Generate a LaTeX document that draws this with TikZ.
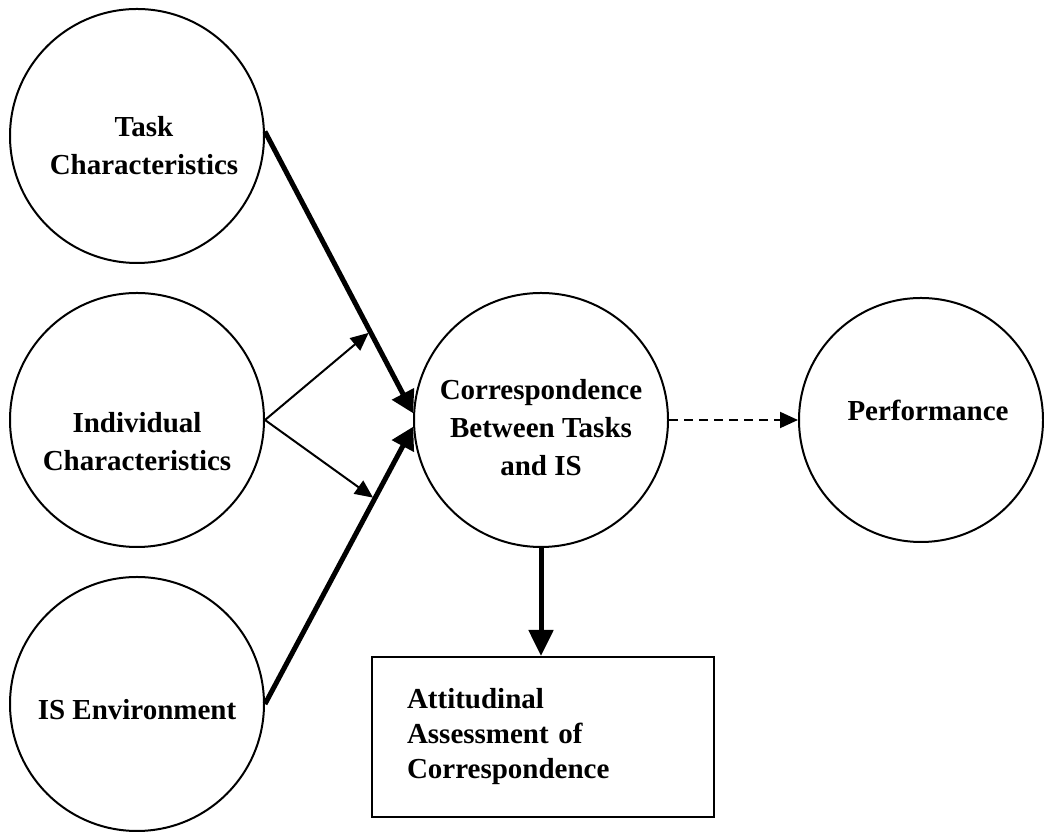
\documentclass[tikz,border=0pt]{standalone}
\usepackage{fontspec}
\setmainfont{Liberation Serif}
\usetikzlibrary{arrows.meta}

\begin{document}
\begin{tikzpicture}[x=0.5pt, y=0.5pt,
  factor/.style={draw, circle, line width=1pt, minimum size=127pt, inner sep=0pt},
  lbl/.style={font=\fontsize{14.5}{19}\selectfont\bfseries, align=center},
  mainarrow/.style={line width=2.5pt, -{Triangle[length=11pt,width=12pt]}},
  sidearrow/.style={line width=1pt, shorten >=1pt, -{Triangle[length=9pt,width=8pt]}}]
\useasboundingbox (0,0) rectangle (1044,834);

\node[factor, label={[lbl, xshift=3.5pt, yshift=-5pt]center:Task\\Characteristics}] (task) at (137,698) {};
\node[factor, label={[lbl, yshift=-11pt]center:Individual\\Characteristics}] (indiv) at (137,414) {};
\node[factor, label={[lbl, yshift=-3pt]center:IS Environment}] (isenv) at (137,130) {};
\node[factor, label={[lbl, yshift=-4pt]center:Correspondence\\Between Tasks\\and IS}] (corr) at (541,414) {};
\node[factor, minimum size=122pt, label={[lbl, xshift=3.5pt, yshift=5pt]center:Performance}] (perf) at (921,414) {};
\node[draw, line width=1pt, minimum height=80pt, text width=136pt, inner xsep=17.5pt, align=left,
  font=\fontsize{14.5}{17.5}\selectfont\bfseries] (assess) at (543,97)
  {Attitudinal\\Assessment of\\Correspondence};

\draw[mainarrow] (task.2) -- coordinate[pos=0.71] (tophit) (corr.177);
\draw[mainarrow] (isenv.east) -- coordinate[pos=0.74] (lowhit) (corr.183);
\draw[sidearrow] (indiv.east) -- (tophit);
\draw[sidearrow] (indiv.east) -- (lowhit);
\draw[line width=1pt, dash pattern=on 4.5pt off 3pt, -{Triangle[length=9pt,width=8pt]}] (corr.east) -- (perf.west);
\draw[line width=2.5pt, -{Triangle[length=13pt,width=12pt]}] (corr.south) -- (corr.south |- assess.north);
\end{tikzpicture}
\end{document}
